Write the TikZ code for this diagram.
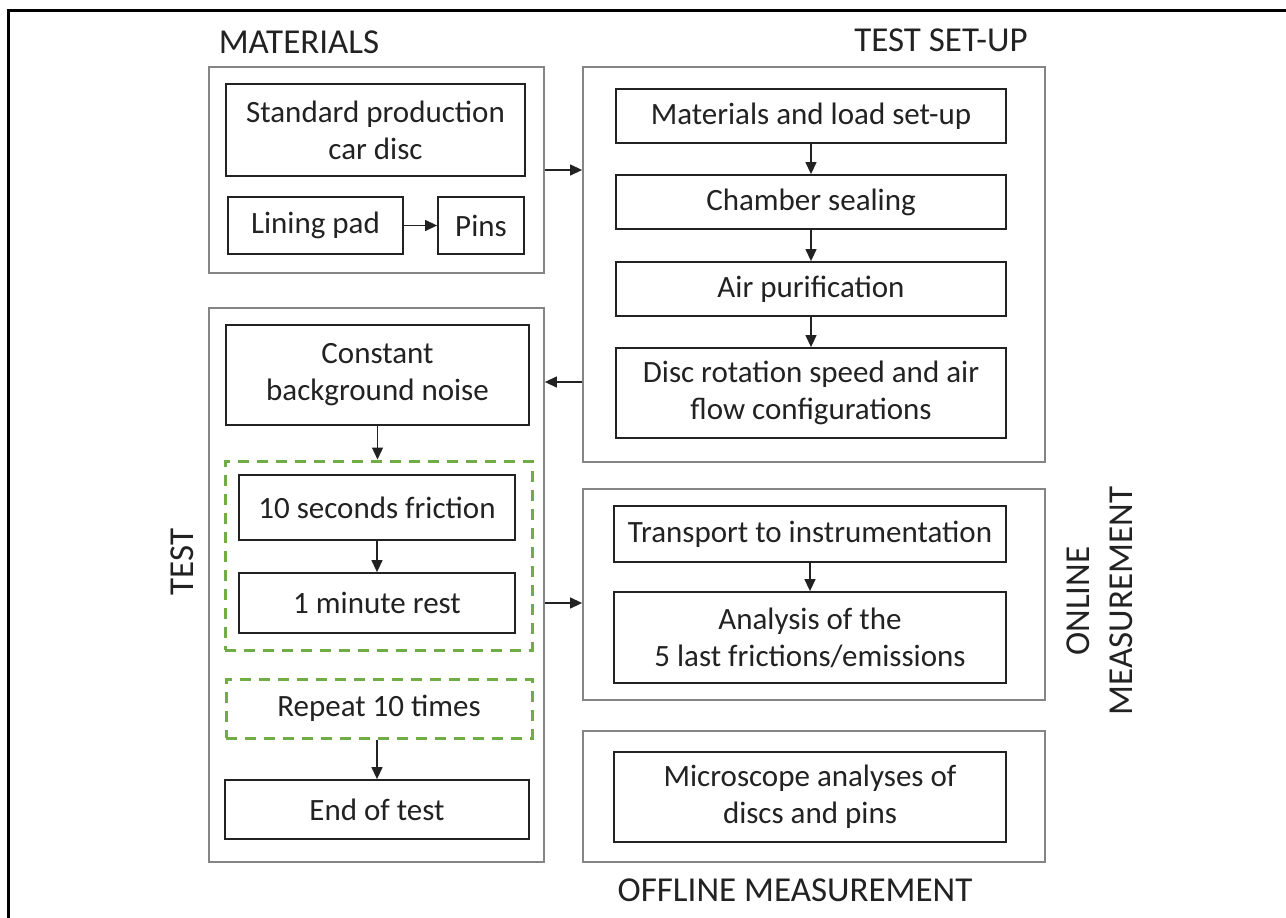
\documentclass[tikz,border=0pt]{standalone}
\usepackage{fontspec}
\setmainfont{Carlito}
\usetikzlibrary{arrows.meta}
\definecolor{grp}{HTML}{858585}
\definecolor{ink}{HTML}{222222}
\definecolor{grn}{HTML}{70AD47}
\tikzset{
  inbox/.style={draw=ink, line width=1.8pt, align=center, text=ink, font=\fontsize{31}{37}\selectfont},
  dashbox/.style={draw=grn, line width=3pt, dash pattern=on 11pt off 8pt},
  lbl/.style={text=ink, font=\fontsize{35}{40}\selectfont, align=center},
  arr/.style={draw=ink, line width=1.3pt, -{Triangle[length=12pt,width=11pt]}},
}
\begin{document}
\begin{tikzpicture}[x=1pt,y=-1pt]
\useasboundingbox (0,0) rectangle (1286,918);
\fill[white] (0,0) rectangle (1286,918);
\draw[line width=3pt, black] (8,918) -- (8,10) -- (1286,10);

% labels
\node[lbl] (lmat) at (299,42) {MATERIALS};
\node[lbl] (lset) at (941,40) {TEST SET-UP};
\node[lbl] (loff) at (795,890) {OFFLINE MEASUREMENT};
\node[lbl, rotate=90] (ltest) at (182,562) {TEST};
\node[lbl, rotate=90, inner sep=0pt] (lon) at (1100,601) {ONLINE\\[3pt]MEASUREMENT};

% group boxes
\node[draw=grp, line width=1.8pt, minimum width=335pt, minimum height=206pt] (mat) at (376.5,170) {};
\node[draw=grp, line width=1.8pt, minimum width=462pt, minimum height=395pt] (setup) at (814,264.5) {};
\node[draw=grp, line width=1.8pt, minimum width=335pt, minimum height=554pt] (test) at (376.5,585) {};
\node[draw=grp, line width=1.8pt, minimum width=462pt, minimum height=211pt] (online) at (814,594.5) {};
\node[draw=grp, line width=1.8pt, minimum width=462pt, minimum height=131pt] (offline) at (814,796.5) {};

% materials
\node[inbox, minimum width=299pt, minimum height=92pt] (disc) at (375.5,130) {Standard production\\car disc};
\node[inbox, minimum width=175pt, minimum height=57pt] (lining) at (315.5,225.5) {Lining pad};
\node[inbox, minimum width=86pt, minimum height=57pt] (pins) at (481,225.5) {Pins};

% test set-up
\node[inbox, minimum width=390pt, minimum height=54pt] (s1) at (811,116) {Materials and load set-up};
\node[inbox, minimum width=390pt, minimum height=54pt] (s2) at (811,202) {Chamber sealing};
\node[inbox, minimum width=390pt, minimum height=54pt] (s3) at (811,289) {Air purification};
\node[inbox, minimum width=390pt, minimum height=90pt] (s4) at (811,393) {Disc rotation speed and air\\flow configurations};

% test
\node[inbox, minimum width=303pt, minimum height=100pt] (noise) at (377.5,375) {Constant\\background noise};
\node[dashbox, minimum width=307pt, minimum height=189pt] (green1) at (378.5,555.5) {};
\node[inbox, minimum width=276pt, minimum height=65pt] (fric) at (377,507.5) {10 seconds friction};
\node[inbox, minimum width=276pt, minimum height=60pt] (rest) at (377,603) {1 minute rest};
\node[dashbox, inner sep=0pt, text=ink, font=\fontsize{31}{37}\selectfont, minimum width=306pt, minimum height=59pt] (rep) at (379,708.5) {Repeat 10 times};
\node[inbox, minimum width=304pt, minimum height=59pt] (endt) at (377,809.5) {End of test};

% online
\node[inbox, minimum width=392pt, minimum height=56pt] (trans) at (810,534) {Transport to instrumentation};
\node[inbox, minimum width=392pt, minimum height=91pt] (anal) at (810,637.5) {Analysis of the\\5 last frictions/emissions};

% offline
\node[inbox, minimum width=392pt, minimum height=90pt] (micro) at (810,797) {Microscope analyses of\\discs and pins};

% arrows
\draw[arr] (mat.east) -- (setup.west |- mat.east);
\draw[arr] (lining) -- (pins);
\draw[arr] (s1) -- (s2);
\draw[arr] (s2) -- (s3);
\draw[arr] (s3) -- (s4);
\draw[arr] (setup.west |- 0,382) -- (test.east |- 0,382);
\draw[arr] (noise.south) -- (noise.south |- green1.north);
\draw[arr] (fric) -- (rest);
\draw[arr] (endt.north |- rep.south) -- (endt.north);
\draw[arr] (test.east |- rest) -- (online.west |- rest);
\draw[arr] (trans) -- (anal);
\end{tikzpicture}
\end{document}
